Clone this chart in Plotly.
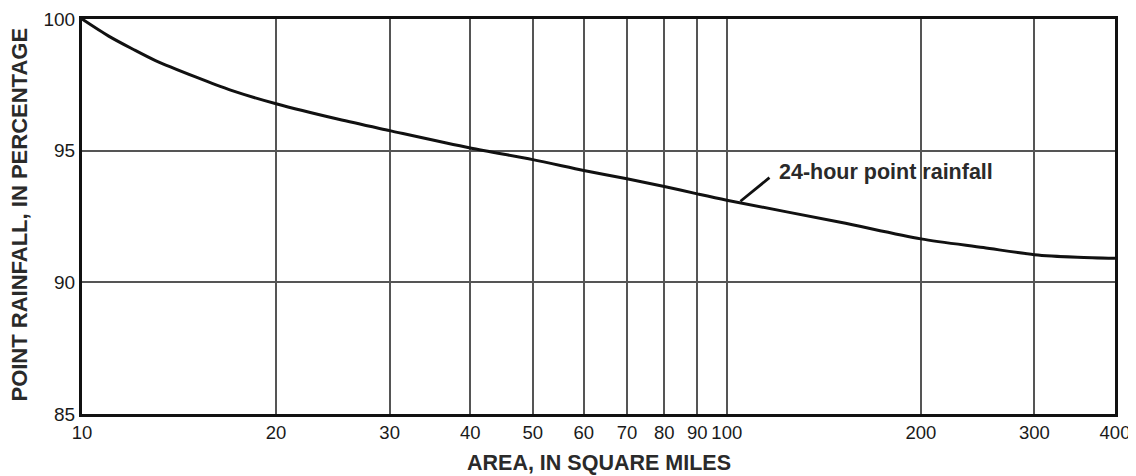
import math
import plotly.graph_objects as go

# Data
area_sq_mi = [10, 11, 12, 13, 15, 17, 20, 25, 30, 40, 50, 60, 70, 80, 90, 100, 150, 200, 250, 300, 350, 400]
point_rainfall_pct = [100, 99.35, 98.85, 98.42, 97.8, 97.3, 96.78, 96.19, 95.76, 95.1, 94.66, 94.25, 93.93,
                      93.64, 93.36, 93.12, 92.28, 91.65, 91.32, 91.05, 90.95, 90.91]

x_tick_vals = [10, 20, 30, 40, 50, 60, 70, 80, 90, 100, 200, 300, 400]
x_tick_text = [str(v) for v in x_tick_vals]
y_tick_vals = [85, 90, 95, 100]
y_tick_text = [str(v) for v in y_tick_vals]

series_label = "24-hour point rainfall"
x_title = "AREA, IN SQUARE MILES"
y_title = "POINT RAINFALL, IN PERCENTAGE"

font_family = "Liberation Sans, Arial, sans-serif"
txt_color = "#2a2a2a"
tick_color = "#1a1a1a"

fig = go.Figure()
fig.add_trace(go.Scatter(
    x=area_sq_mi, y=point_rainfall_pct, mode="lines",
    line=dict(color="#111111", width=3, shape="spline", smoothing=0.8),
    showlegend=False, hoverinfo="x+y",
))

# leader line to the label
fig.add_annotation(
    x=math.log10(105), y=93.08, xref="x", yref="y",
    text=" ", showarrow=True, arrowhead=0, arrowwidth=2.8, arrowcolor="#111111",
    ax=32, ay=-26, standoff=0, startstandoff=0,
)
fig.add_annotation(
    x=math.log10(119.5), y=94.18, xref="x", yref="y",
    text="<b>" + series_label + "</b>", showarrow=False,
    xanchor="left", yanchor="middle",
    font=dict(family=font_family, size=21.5, color=txt_color),
)

# axis titles
fig.add_annotation(
    x=0.5, y=-0.124, xref="paper", yref="paper",
    text="<b>" + x_title + "</b>", showarrow=False,
    xanchor="center", yanchor="middle",
    font=dict(family=font_family, size=21.5, color=txt_color),
)
fig.add_annotation(
    x=-0.06, y=0.505, xref="paper", yref="paper",
    text="<b>" + y_title + "</b>", showarrow=False, textangle=-90,
    xanchor="center", yanchor="middle",
    font=dict(family=font_family, size=22, color=txt_color),
)

# page body has an 8px default margin: size the figure so the plot lands where the reference has it
fig.update_layout(
    width=1128, height=468,
    margin=dict(l=74, r=21, t=11, b=62),
    paper_bgcolor="white", plot_bgcolor="white",
    font=dict(family=font_family, color=txt_color),
)
fig.update_xaxes(
    type="log", range=[1, math.log10(400)],
    tickvals=x_tick_vals, ticktext=x_tick_text, tickangle=0,
    tickfont=dict(size=18.5, family=font_family, color=tick_color),
    showgrid=True, gridcolor="#555555", gridwidth=1.6,
    showline=True, linecolor="#111111", linewidth=3, mirror=True,
    ticks="", ticklen=0,
    automargin=False, zeroline=False,
)
fig.update_yaxes(
    range=[85, 100],
    tickvals=y_tick_vals, ticktext=y_tick_text,
    tickfont=dict(size=19, family=font_family, color=tick_color),
    showgrid=True, gridcolor="#555555", gridwidth=1.6,
    showline=True, linecolor="#111111", linewidth=3, mirror=True,
    ticks="", ticklen=0,
    automargin=False, zeroline=False,
)

fig.write_html("out.html")
